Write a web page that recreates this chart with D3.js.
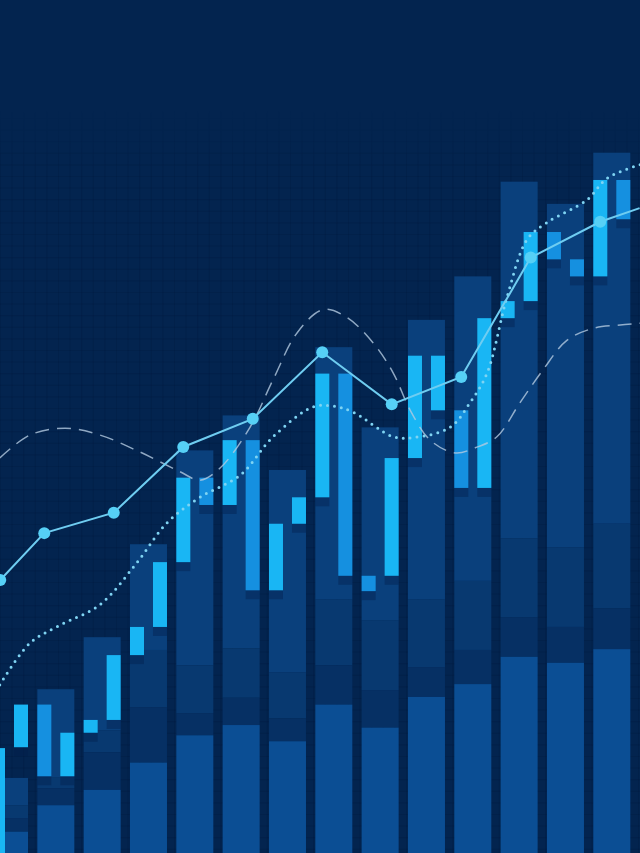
<!DOCTYPE html>
<html>
<head>
<meta charset="utf-8">
<script src="https://cdn.jsdelivr.net/npm/d3@7"></script>
<style>
  html, body { margin: 0; padding: 0; background: #03234f; overflow: hidden; }
  svg { display: block; }
</style>
</head>
<body>
<svg id="chart" width="640" height="853"></svg>
<script>
// ---------------- DATA ----------------
const periods = ["P1","P2","P3","P4","P5","P6","P7","P8","P9","P10","P11","P12","P13","P14"];

// background volume columns: total height and segment boundaries (value units)
const volumeTop = [8.8, 19.2, 25.3, 36.2, 47.2, 51.3, 44.9, 59.3, 49.9, 62.5, 67.6, 78.7, 76.1, 82.1];
const volumeSeg1 = [5.6, 8.9, 14.4, 23.8, 22.0, 24.0, 21.2, 29.7, 27.3, 29.7, 31.9, 36.9, 35.8, 38.6];
const volumeSeg2 = [4.1, 7.6, 11.8, 17.1, 16.4, 18.2, 15.8, 22.0, 19.1, 21.8, 23.8, 27.6, 26.5, 28.7];
const volumeSeg3 = [2.5, 5.6, 7.4, 10.6, 13.8, 15.0, 13.1, 17.4, 14.7, 18.3, 19.8, 23.0, 22.3, 23.9];

// candle bodies: first (left) and second (right) candle per period
const candleAHigh = [12.3, 17.4, 15.6, 26.5, 44.0, 48.4, 38.6, 56.2, 32.5, 58.3, 51.9, 64.7, 72.8, 78.9];
const candleALow  = [-1.0,  9.0, 14.1, 23.2, 34.1, 40.8, 30.8, 41.7, 30.7, 46.3, 42.8, 62.7, 69.6, 67.6];
const candleAType = ["up","down","up","up","up","up","up","up","down","up","down","up","down","up"];
const candleBHigh = [17.4, 14.1, 23.2, 34.1, 44.0, 48.4, 41.7, 56.2, 46.3, 58.3, 62.7, 72.8, 69.6, 78.9];
const candleBLow  = [12.4,  9.0, 15.6, 26.5, 40.8, 30.8, 38.6, 32.5, 32.5, 51.9, 42.8, 64.7, 67.6, 74.3];
const candleBType = ["up","up","up","up","down","down","up","down","up","up","up","up","down","down"];

// trend line with markers (t = position in period units)
const trendT = [-0.2, 0.75, 2.25, 3.75, 5.25, 6.75, 8.25, 9.75, 11.25, 12.75, 13.6];
const trendV = [32.0, 37.5, 39.9, 47.6, 50.9, 58.7, 52.6, 55.8, 69.8, 74.0, 75.6];
const trendMarker = [true, true, true, true, true, true, true, true, true, true, false];

// dotted moving average
const dottedT = [-0.21, 0.44, 1.09, 1.95, 2.73, 3.40, 4.11, 4.98, 5.69, 6.55, 6.98, 7.41, 8.28, 8.71, 9.51, 9.94, 10.31, 10.74, 11.17, 11.60, 12.47, 12.90, 13.61];
const dottedV = [19.7, 24.6, 26.7, 29.1, 33.9, 38.7, 41.7, 44.3, 48.8, 52.3, 52.4, 51.7, 48.8, 48.7, 49.9, 52.8, 56.3, 65.2, 71.9, 73.9, 76.6, 79.1, 80.7];

// dashed oscillating curve
const dashedT = [-0.21, 0.44, 1.20, 1.95, 2.82, 3.68, 4.11, 4.54, 5.19, 5.69, 6.21, 6.77, 7.28, 7.85, 8.28, 8.65, 9.08, 9.62, 10.05, 10.52, 11.02, 11.51, 12.03, 12.59, 13.18, 13.61];
const dashedV = [46.3, 49.0, 49.8, 49.0, 47.0, 44.7, 43.7, 45.1, 49.9, 55.5, 61.0, 63.7, 62.8, 59.8, 56.3, 51.9, 48.4, 46.9, 47.5, 48.8, 52.8, 56.6, 60.1, 61.5, 61.9, 62.1];

// ---------------- CHART ----------------
const W = 640, H = 853;
const svg = d3.select("#chart");

const x = d3.scaleBand().domain(periods).range([-9, 630.3]).paddingInner(0.2014).paddingOuter(0);
const inner = d3.scaleBand().domain(["A","B"]).range([0, x.bandwidth()]).paddingInner(0.391).paddingOuter(0);
const y = d3.scaleLinear().domain([0, 100]).range([H, 0]);
const xt = d3.scaleLinear().domain([0, periods.length - 1])
  .range([x(periods[0]) + x.bandwidth() / 2, x(periods[periods.length - 1]) + x.bandwidth() / 2]);

// background
svg.append("rect").attr("width", W).attr("height", H).attr("fill", "#03244f");

// faint grid (lower area)
const defs = svg.append("defs");
const fade = defs.append("linearGradient").attr("id", "gridFade").attr("x1", 0).attr("y1", 0).attr("x2", 0).attr("y2", 1);
fade.append("stop").attr("offset", "0%").attr("stop-color", "#fff").attr("stop-opacity", 0);
fade.append("stop").attr("offset", "13%").attr("stop-color", "#fff").attr("stop-opacity", 0);
fade.append("stop").attr("offset", "20%").attr("stop-color", "#fff").attr("stop-opacity", 1);
fade.append("stop").attr("offset", "100%").attr("stop-color", "#fff").attr("stop-opacity", 1);
const mask = defs.append("mask").attr("id", "gridMask");
mask.append("rect").attr("width", W).attr("height", H).attr("fill", "url(#gridFade)");

const grid = svg.append("g").attr("mask", "url(#gridMask)")
  .attr("stroke", "#011a3e").attr("stroke-opacity", 0.28).attr("stroke-width", 1);
const gstep = 11.6;
grid.selectAll("line.v").data(d3.range(0, W, gstep)).join("line")
  .attr("x1", d => d + 0.5).attr("x2", d => d + 0.5).attr("y1", 0).attr("y2", H);
grid.selectAll("line.h").data(d3.range(2, H, gstep)).join("line")
  .attr("y1", d => d + 0.5).attr("y2", d => d + 0.5).attr("x1", 0).attr("x2", W);

// volume columns (4 stacked tones)
const cols = periods.map((p, i) => ({
  p,
  segs: [
    { from: volumeSeg1[i], to: volumeTop[i], fill: "#0a407c" },
    { from: volumeSeg2[i], to: volumeSeg1[i], fill: "#083970" },
    { from: volumeSeg3[i], to: volumeSeg2[i], fill: "#063064" },
    { from: -2, to: volumeSeg3[i], fill: "#0b4e94" }
  ]
}));
const colG = svg.append("g").selectAll("g").data(cols).join("g")
  .attr("transform", d => `translate(${x(d.p)},0)`);
colG.selectAll("rect").data(d => d.segs).join("rect")
  .attr("x", 0).attr("width", x.bandwidth())
  .attr("y", d => y(d.to)).attr("height", d => y(d.from) - y(d.to))
  .attr("fill", d => d.fill);

// candles
const candles = [];
periods.forEach((p, i) => {
  candles.push({ p, k: "A", hi: candleAHigh[i], lo: candleALow[i], type: candleAType[i] });
  candles.push({ p, k: "B", hi: candleBHigh[i], lo: candleBLow[i], type: candleBType[i] });
});
const cg = svg.append("g");
cg.selectAll("rect.shadow").data(candles).join("rect").attr("class", "shadow")
  .attr("x", d => x(d.p) + inner(d.k)).attr("width", inner.bandwidth())
  .attr("y", d => y(d.lo)).attr("height", 9)
  .attr("fill", "#021f4a").attr("opacity", 0.4);
cg.selectAll("rect.body").data(candles).join("rect").attr("class", "body")
  .attr("x", d => x(d.p) + inner(d.k)).attr("width", inner.bandwidth())
  .attr("y", d => y(d.hi)).attr("height", d => y(d.lo) - y(d.hi))
  .attr("fill", d => d.type === "up" ? "#19b6f4" : "#1590e0");

// dashed curve
const dashed = dashedT.map((t, i) => [xt(t), y(dashedV[i])]);
svg.append("path").attr("d", d3.line().curve(d3.curveCatmullRom.alpha(0.5))(dashed))
  .attr("fill", "none").attr("stroke", "#b3c9e0").attr("stroke-opacity", 0.8)
  .attr("stroke-width", 1.5).attr("stroke-dasharray", "14 8");

// dotted curve
const dotted = dottedT.map((t, i) => [xt(t), y(dottedV[i])]);
svg.append("path").attr("d", d3.line().curve(d3.curveCatmullRom.alpha(0.5))(dotted))
  .attr("fill", "none").attr("stroke", "#7fd4f3").attr("stroke-width", 3)
  .attr("stroke-linecap", "round").attr("stroke-dasharray", "0 7");

// trend line
const trend = trendT.map((t, i) => ({ x: xt(t), y: y(trendV[i]), m: trendMarker[i] }));
svg.append("path").attr("d", d3.line().x(d => d.x).y(d => d.y)(trend))
  .attr("fill", "none").attr("stroke", "#6fcdf1").attr("stroke-width", 2);
svg.append("g").selectAll("circle").data(trend.filter(d => d.m)).join("circle")
  .attr("cx", d => d.x).attr("cy", d => d.y).attr("r", 6)
  .attr("fill", "#56d0f6");
</script>
</body>
</html>
